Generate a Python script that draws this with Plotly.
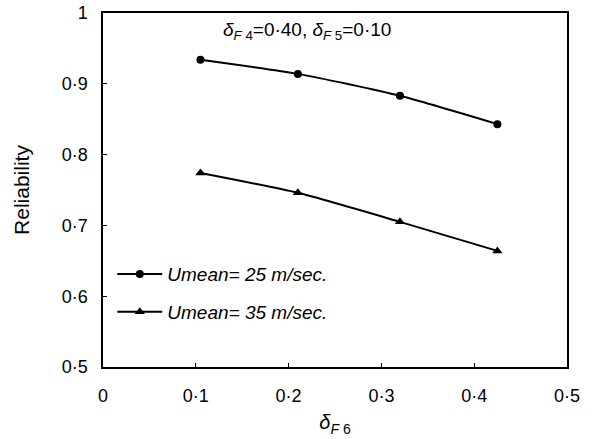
import plotly.graph_objects as go

# Data
delta_f6 = [0.105, 0.21, 0.32, 0.425]
rel_u25 = [0.934, 0.914, 0.883, 0.843]
rel_u35 = [0.774, 0.746, 0.705, 0.664]

x_tickvals = [0, 0.1, 0.2, 0.3, 0.4, 0.5]
x_ticktext = ["0", "0·1", "0·2", "0·3", "0·4", "0·5"]
y_tickvals = [0.5, 0.6, 0.7, 0.8, 0.9, 1.0]
y_ticktext = ["0·5", "0·6", "0·7", "0·8", "0·9", "1"]

FONT = "Liberation Sans, Arial, sans-serif"

fig = go.Figure()
fig.add_trace(go.Scatter(
    x=delta_f6, y=rel_u25, mode="lines+markers",
    name="<i>Umean= 25 m/sec.</i>", legendgroup="a",
    line=dict(color="black", width=2, shape="spline", smoothing=0.6),
    marker=dict(symbol="circle", size=8, color="black"),
))
fig.add_trace(go.Scatter(
    x=delta_f6, y=rel_u35, mode="lines+markers",
    name="<i>Umean= 35 m/sec.</i>", legendgroup="b",
    line=dict(color="black", width=2, shape="spline", smoothing=0.6),
    marker=dict(symbol="triangle-up", size=9, color="black"),
))

fig.add_annotation(
    x=0.44, y=0.95, xref="paper", yref="paper", yanchor="middle", xanchor="center",
    text="<i>δ</i><sub><i>F</i> 4</sub>=0·40, <i>δ</i><sub><i>F</i> 5</sub>=0·10",
    showarrow=False, font=dict(family=FONT, size=19, color="black"),
)

fig.update_layout(
    width=614, height=439,
    margin=dict(l=103, r=47, t=13, b=72, autoexpand=False),
    paper_bgcolor="white", plot_bgcolor="white",
    font=dict(family=FONT, size=18, color="black"),
    showlegend=True,
    legend=dict(
        x=0.02, y=0.316, xanchor="left", yanchor="top",
        bgcolor="rgba(0,0,0,0)", font=dict(size=19, family=FONT),
        itemwidth=45, tracegroupgap=10, traceorder="grouped",
    ),
    xaxis=dict(
        range=[0, 0.5], tickvals=x_tickvals, ticktext=x_ticktext,
        showline=True, linecolor="black", linewidth=1.5, mirror=True,
        ticks="inside", ticklen=4, tickcolor="black",
        showgrid=False, zeroline=False, automargin=False,
        tickfont=dict(size=18), ticklabelstandoff=12,
        title=dict(text="<i>δ</i><sub><i>F</i> 6</sub>", font=dict(size=20), standoff=10),
    ),
    yaxis=dict(
        range=[0.5, 1.0], tickvals=y_tickvals, ticktext=y_ticktext,
        showline=True, linecolor="black", linewidth=1.5, mirror=True,
        ticks="inside", ticklen=4, tickcolor="black",
        showgrid=False, zeroline=False, automargin=False,
        tickfont=dict(size=18), ticklabelstandoff=10,
        title=dict(text="Reliability", font=dict(size=21), standoff=26),
    ),
)

fig.write_html("out.html")
